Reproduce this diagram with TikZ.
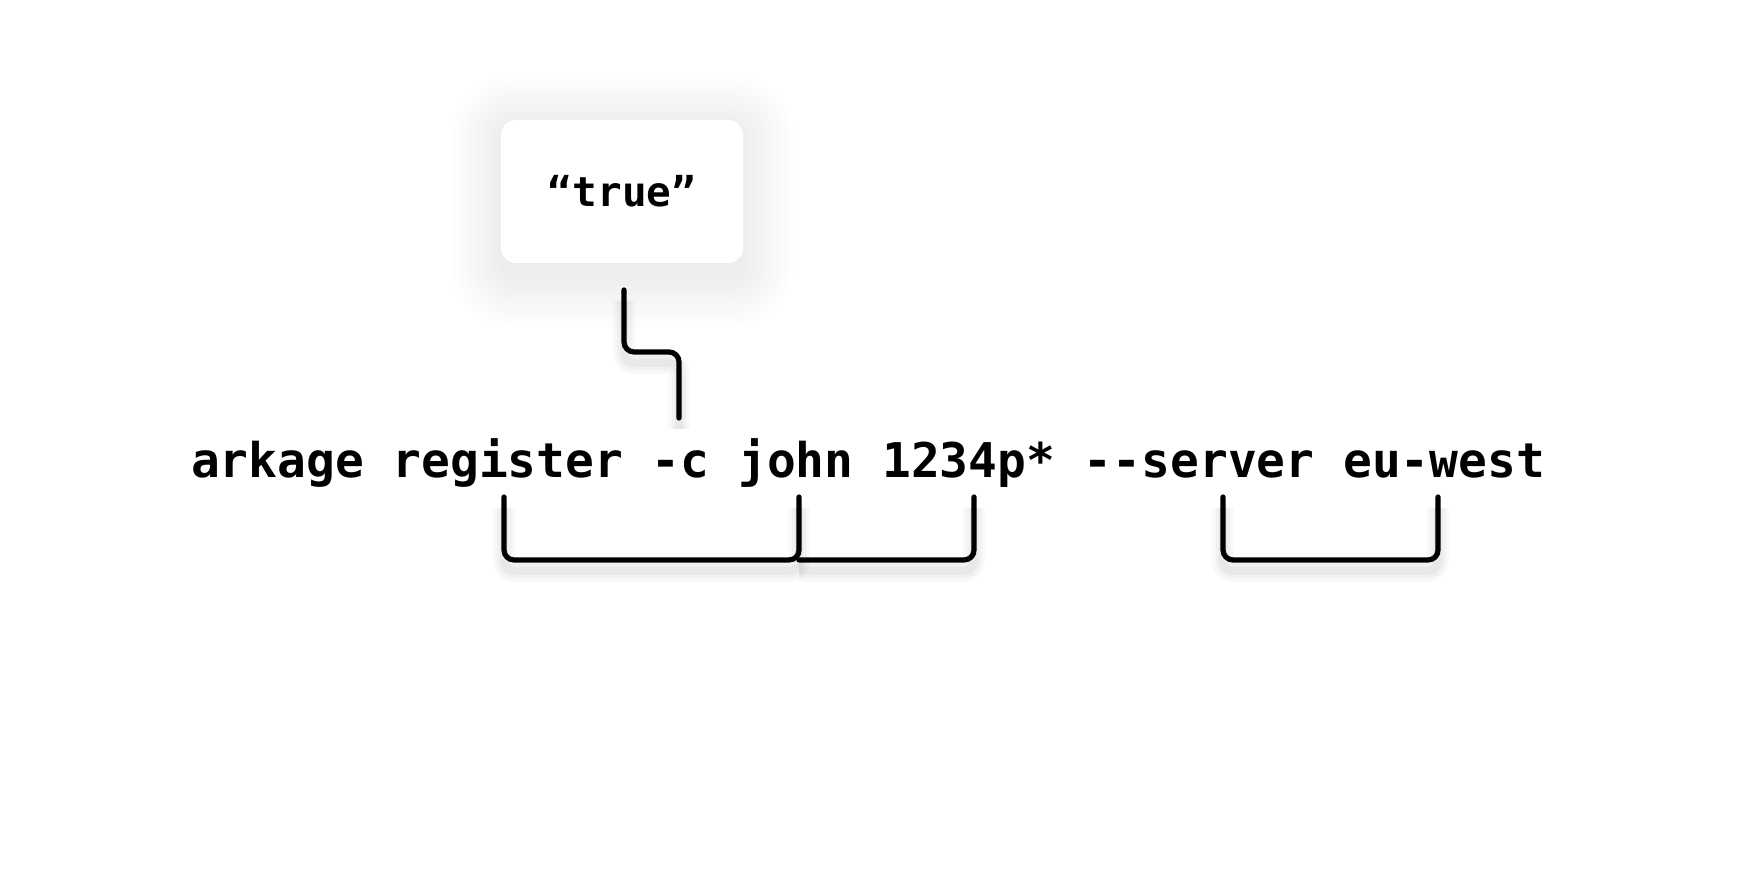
\documentclass[tikz,border=0pt]{standalone}
\usepackage{fontspec}
\setmonofont{DejaVu Sans Mono}
\definecolor{haze}{RGB}{50,65,115}

\begin{document}
\begin{tikzpicture}
[x = 1bp, y = 1bp,
 glow/.style = {fill = haze, opacity = 0.003},
 card/.style = {fill = white, rounded corners = 15bp, minimum width = 242bp, minimum height = 143bp, inner sep = 0pt,
   font = \fontsize{41bp}{48bp}\selectfont\ttfamily\bfseries},
 cmd/.style = {inner sep = 0pt, anchor = base, font = \fontsize{47.85bp}{56bp}\selectfont\ttfamily\bfseries},
 link/.style = {draw = black, line width = 5.2bp, line cap = round, rounded corners = 10bp,
   preaction = {draw = black, opacity = 0.025, line width = 22bp, transform canvas = {yshift = -11bp}},
   preaction = {draw = black, opacity = 0.03, line width = 15bp, transform canvas = {yshift = -11bp}},
   preaction = {draw = black, opacity = 0.035, line width = 8bp, transform canvas = {yshift = -11bp}}}
 ]
\fill [white] (0,0) rectangle (1755,885);
\useasboundingbox (0,0) rectangle (1755,885);
\foreach \g in {0,3,...,51}
  \fill [glow, rounded corners = 15+\g] (501-\g,608-\g) rectangle (743+\g,760+\g);
\node [card] (val) at (622,693.5) {“true”};
\node [cmd] (line) at (868,407) {arkage register -c john 1234p* -{}-server eu-west};
\coordinate (valfoot) at (624,595);
\coordinate (flagtick) at (679,467);
\coordinate (regtick) at (504,388);
\coordinate (usertick) at (799,388);
\coordinate (passtick) at (974,388);
\coordinate (srvtick) at (1223,388);
\coordinate (zonetick) at (1438,388);
\draw [link] (valfoot) -- ++(0,-62) -| (flagtick);
\draw [link] (regtick) -- ++(0,-63) -| (usertick);
\draw [link] (usertick) ++(0,-63) -| (passtick);
\draw [link] (srvtick) -- ++(0,-63) -| (zonetick);
\end{tikzpicture}
\end{document}
